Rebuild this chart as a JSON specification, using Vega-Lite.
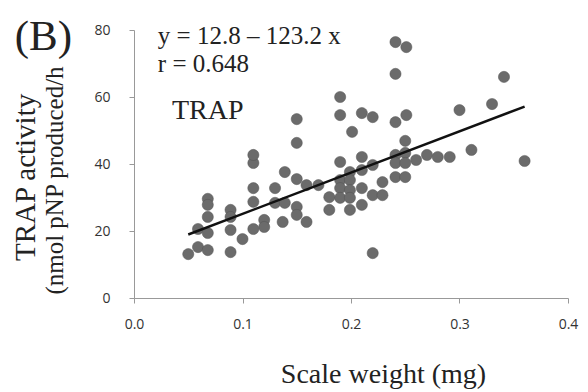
{
  "$schema": "https://vega.github.io/schema/vega-lite/v6.json",
  "width": 434,
  "height": 268,
  "autosize": "none",
  "padding": {"left": 134, "top": 30, "right": 20, "bottom": 94},
  "background": "white",
  "config": {"view": {"stroke": null}},
  "datasets": {
    "pts": [
      {"w": 0.050, "a": 13.1}, {"w": 0.059, "a": 15.2}, {"w": 0.068, "a": 14.3}, {"w": 0.059, "a": 20.6},
      {"w": 0.068, "a": 19.4}, {"w": 0.068, "a": 24.2}, {"w": 0.068, "a": 29.6}, {"w": 0.068, "a": 27.8},
      {"w": 0.089, "a": 26.3}, {"w": 0.089, "a": 24.2}, {"w": 0.089, "a": 20.3}, {"w": 0.089, "a": 13.7},
      {"w": 0.100, "a": 17.6}, {"w": 0.110, "a": 20.6}, {"w": 0.110, "a": 28.7}, {"w": 0.110, "a": 32.8},
      {"w": 0.110, "a": 40.3}, {"w": 0.110, "a": 42.7}, {"w": 0.120, "a": 23.3}, {"w": 0.120, "a": 21.2},
      {"w": 0.130, "a": 32.8}, {"w": 0.130, "a": 28.4}, {"w": 0.137, "a": 22.7}, {"w": 0.139, "a": 37.6},
      {"w": 0.139, "a": 28.4}, {"w": 0.150, "a": 35.5}, {"w": 0.150, "a": 27.2}, {"w": 0.150, "a": 24.8},
      {"w": 0.159, "a": 33.7}, {"w": 0.159, "a": 22.7}, {"w": 0.170, "a": 33.7}, {"w": 0.180, "a": 30.1},
      {"w": 0.180, "a": 26.3}, {"w": 0.190, "a": 40.6}, {"w": 0.190, "a": 35.2}, {"w": 0.190, "a": 32.8},
      {"w": 0.190, "a": 29.9}, {"w": 0.199, "a": 37.6}, {"w": 0.199, "a": 35.2}, {"w": 0.199, "a": 32.2},
      {"w": 0.199, "a": 29.9}, {"w": 0.199, "a": 26.3}, {"w": 0.210, "a": 42.1}, {"w": 0.210, "a": 38.2},
      {"w": 0.210, "a": 32.8}, {"w": 0.210, "a": 27.8}, {"w": 0.220, "a": 39.7}, {"w": 0.220, "a": 30.7},
      {"w": 0.229, "a": 34.6}, {"w": 0.229, "a": 30.7}, {"w": 0.220, "a": 13.4}, {"w": 0.150, "a": 46.3},
      {"w": 0.201, "a": 49.6}, {"w": 0.150, "a": 53.4}, {"w": 0.190, "a": 60.0}, {"w": 0.190, "a": 54.6},
      {"w": 0.210, "a": 55.2}, {"w": 0.220, "a": 54.0}, {"w": 0.241, "a": 76.4}, {"w": 0.251, "a": 74.9},
      {"w": 0.241, "a": 66.9}, {"w": 0.341, "a": 66.0}, {"w": 0.330, "a": 57.9}, {"w": 0.300, "a": 56.1},
      {"w": 0.251, "a": 54.6}, {"w": 0.241, "a": 52.5}, {"w": 0.250, "a": 46.9}, {"w": 0.311, "a": 44.2},
      {"w": 0.360, "a": 40.9}, {"w": 0.291, "a": 42.1}, {"w": 0.280, "a": 42.1}, {"w": 0.270, "a": 42.7},
      {"w": 0.260, "a": 41.2}, {"w": 0.241, "a": 42.7}, {"w": 0.241, "a": 40.3}, {"w": 0.250, "a": 43.3},
      {"w": 0.250, "a": 40.3}, {"w": 0.241, "a": 36.1}, {"w": 0.250, "a": 36.1}
    ],
    "fit": [
      {"w": 0.05, "a": 18.96},
      {"w": 0.36, "a": 57.15}
    ],
    "eq": [
      {"w": 0.022, "a": 75.8, "t": "y = 12.8 – 123.2 x"},
      {"w": 0.022, "a": 67.6, "t": "r = 0.648"}
    ],
    "lab": [
      {"w": 0.035, "a": 53.3, "t": "TRAP"}
    ],
    "panel": [
      {"w": -0.11, "a": 74.0, "t": "(B)"}
    ],
    "ytitle1": [
      {"w": -0.0912, "a": 36.0, "t": "TRAP activity"}
    ]
  },
  "encoding": {
    "x": {
      "field": "w", "type": "quantitative",
      "scale": {"domain": [0, 0.4], "nice": false, "zero": false},
      "axis": {
        "values": [0, 0.1, 0.2, 0.3, 0.4], "format": ".1f", "grid": false,
        "title": "Scale weight (mg)",
        "titleFont": "Liberation Serif", "titleFontSize": 28, "titleFontWeight": "normal",
        "titleColor": "#222", "titleX": 249, "titleY": 84, "titleBaseline": "alphabetic", "titleAlign": "center",
        "labelFont": "Open Sans", "labelFontSize": 14, "labelColor": "#333", "labelPadding": 14,
        "domainColor": "#999", "tickColor": "#999", "tickSize": 5, "labelFlush": false
      }
    },
    "y": {
      "field": "a", "type": "quantitative",
      "scale": {"domain": [0, 80], "nice": false},
      "axis": {
        "values": [0, 20, 40, 60, 80], "grid": false,
        "title": "(nmol pNP produced/h",
        "titleFont": "Liberation Serif", "titleFontSize": 25, "titleFontWeight": "normal",
        "titleColor": "#222", "titleX": -72, "titleY": 150, "titleBaseline": "alphabetic", "titleAlign": "center", "titleAngle": 270,
        "labelFont": "Open Sans", "labelFontSize": 14, "labelColor": "#333", "labelPadding": 19,
        "domainColor": "#999", "tickColor": "#999", "tickSize": 5
      }
    }
  },
  "layer": [
    {
      "data": {"name": "pts"},
      "mark": {"type": "circle", "size": 125, "color": "#6b6b6b", "opacity": 1, "stroke": "#555", "strokeWidth": 0.5}
    },
    {
      "data": {"name": "fit"},
      "mark": {"type": "line", "color": "#111", "strokeWidth": 2.5}
    },
    {
      "data": {"name": "eq"},
      "mark": {"type": "text", "font": "Liberation Serif", "fontSize": 25, "align": "left", "baseline": "alphabetic", "color": "#222"},
      "encoding": {"text": {"field": "t"}}
    },
    {
      "data": {"name": "lab"},
      "mark": {"type": "text", "font": "Liberation Serif", "fontSize": 28, "align": "left", "baseline": "alphabetic", "color": "#222"},
      "encoding": {"text": {"field": "t"}}
    },
    {
      "data": {"name": "panel"},
      "mark": {"type": "text", "font": "Liberation Serif", "fontSize": 43, "align": "left", "baseline": "alphabetic", "color": "#222"},
      "encoding": {"text": {"field": "t"}}
    },
    {
      "data": {"name": "ytitle1"},
      "mark": {"type": "text", "font": "Liberation Serif", "fontSize": 29, "align": "center", "baseline": "alphabetic", "angle": 270, "color": "#222"},
      "encoding": {"text": {"field": "t"}}
    }
  ]
}
